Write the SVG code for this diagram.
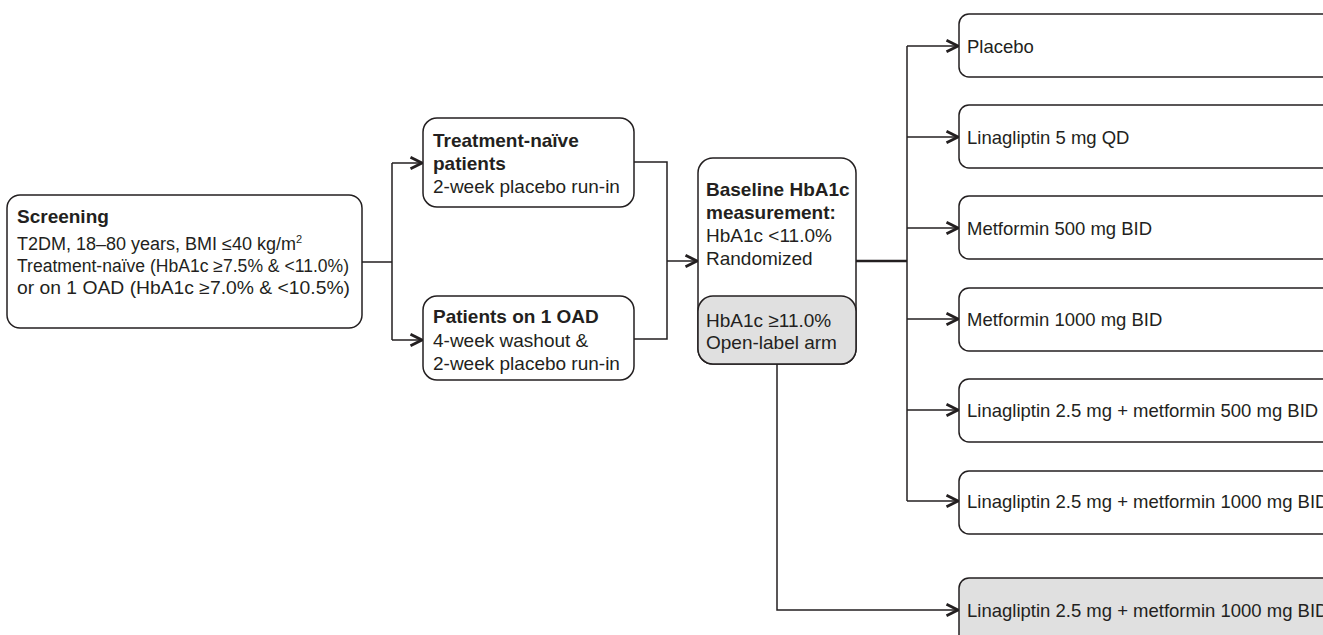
<svg xmlns="http://www.w3.org/2000/svg" width="1323" height="635" viewBox="0 0 1323 635">
<style>
  .box{fill:#ffffff;stroke:#231f20;stroke-width:1.5}
  .gray{fill:#e0e0e0;stroke:#231f20;stroke-width:1.5}
  .t{font-family:"Liberation Sans",Arial,Helvetica,sans-serif;font-size:19px;fill:#231f20}
  .ts{font-family:"Liberation Sans",Arial,Helvetica,sans-serif;font-size:18px;fill:#231f20}
  .tr{font-family:"Liberation Sans",Arial,Helvetica,sans-serif;font-size:18.5px;fill:#231f20}
  .b{font-weight:bold}
  .ln{fill:none;stroke:#231f20;stroke-width:1.5}
  .arr{fill:none;stroke:#231f20;stroke-width:1.5;marker-end:url(#chev)}
</style>
<defs>
  <marker id="chev" markerUnits="userSpaceOnUse" markerWidth="16" markerHeight="16" refX="12" refY="6" orient="auto" overflow="visible">
    <path d="M0.5,0.3 L12,6 L0.5,11.7" fill="none" stroke="#231f20" stroke-width="2.8"/>
  </marker>
</defs>
<rect width="1323" height="635" fill="#ffffff"/>

<g id="connectors">
  <path class="ln" d="M362,262 H392 M392,163 V340"/>
  <path class="arr" d="M392,163 H422"/>
  <path class="arr" d="M392,340 H422"/>
  <path class="ln" d="M634,162 H667 V339 H634"/>
  <path class="arr" d="M667,261 H697"/>
  <path class="ln" d="M856,261 H907" style="stroke-width:2.5"/>
  <path class="ln" d="M907,46 V501"/>
  <path class="arr" d="M907,46 H958"/>
  <path class="arr" d="M907,137 H958"/>
  <path class="arr" d="M907,228 H958"/>
  <path class="arr" d="M907,319 H958"/>
  <path class="arr" d="M907,410 H958"/>
  <path class="arr" d="M907,501 H958"/>
  <path class="arr" d="M777,364 V610 H958"/>
</g>

<g id="screening">
  <rect class="box" x="7" y="195" width="355" height="133" rx="13"/>
  <text class="t b" x="17" y="223">Screening</text>
  <text class="ts" x="17" y="250">T2DM, 18–80 years, BMI ≤40 kg/m<tspan font-size="11" dy="-7">2</tspan></text>
  <text class="ts" x="17" y="272" textLength="332" lengthAdjust="spacingAndGlyphs">Treatment-naïve (HbA1c ≥7.5% &amp; &lt;11.0%)</text>
  <text class="ts" x="17" y="294" textLength="333" lengthAdjust="spacingAndGlyphs">or on 1 OAD (HbA1c ≥7.0% &amp; &lt;10.5%)</text>
</g>

<g id="treatment-naive">
  <rect class="box" x="423" y="118" width="211" height="89" rx="14"/>
  <text class="t b" x="433" y="147">Treatment-naïve</text>
  <text class="t b" x="433" y="170">patients</text>
  <text class="t" x="433" y="193">2-week placebo run-in</text>
</g>

<g id="oad">
  <rect class="box" x="423" y="296" width="211" height="84" rx="14"/>
  <text class="t b" x="433" y="323">Patients on 1 OAD</text>
  <text class="t" x="433" y="347">4-week washout &amp;</text>
  <text class="t" x="433" y="370">2-week placebo run-in</text>
</g>

<g id="baseline">
  <rect class="box" x="698" y="158" width="158" height="206" rx="15"/>
  <text class="t b" x="706" y="196">Baseline HbA1c</text>
  <text class="t b" x="706" y="219">measurement:</text>
  <text class="t" x="706" y="242">HbA1c &lt;11.0%</text>
  <text class="t" x="706" y="265">Randomized</text>
</g>

<g id="open-label">
  <rect class="gray" x="698" y="296" width="158" height="68" rx="15"/>
  <text class="t" x="706" y="327">HbA1c ≥11.0%</text>
  <text class="t" x="706" y="349">Open-label arm</text>
</g>

<g id="arm-placebo">
  <rect class="box" x="959" y="14" width="380" height="63" rx="10"/>
  <text class="tr" x="967" y="53">Placebo</text>
</g>
<g id="arm-lina5">
  <rect class="box" x="959" y="105" width="380" height="63" rx="10"/>
  <text class="tr" x="967" y="144">Linagliptin 5 mg QD</text>
</g>
<g id="arm-met500">
  <rect class="box" x="959" y="196" width="380" height="63" rx="10"/>
  <text class="tr" x="967" y="235">Metformin 500 mg BID</text>
</g>
<g id="arm-met1000">
  <rect class="box" x="959" y="288" width="380" height="63" rx="10"/>
  <text class="tr" x="967" y="326">Metformin 1000 mg BID</text>
</g>
<g id="arm-lina-met500">
  <rect class="box" x="959" y="379" width="380" height="63" rx="10"/>
  <text class="tr" x="967" y="417">Linagliptin 2.5 mg + metformin 500 mg BID</text>
</g>
<g id="arm-lina-met1000">
  <rect class="box" x="959" y="471" width="380" height="63" rx="10"/>
  <text class="tr" x="967" y="508">Linagliptin 2.5 mg + metformin 1000 mg BID</text>
</g>
<g id="arm-open-label">
  <rect class="gray" x="959" y="578" width="380" height="80" rx="10"/>
  <text class="tr" x="967" y="617">Linagliptin 2.5 mg + metformin 1000 mg BID</text>
</g>
</svg>
